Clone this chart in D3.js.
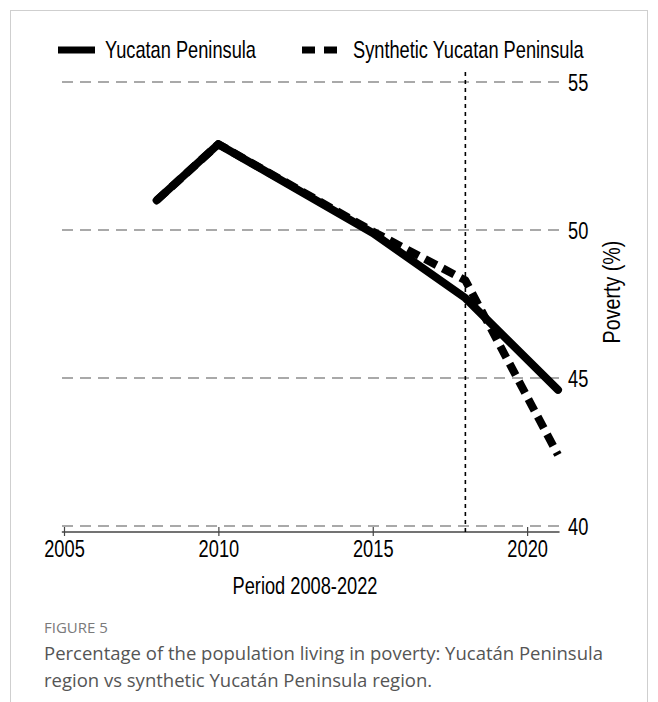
<!DOCTYPE html>
<html>
<head>
<meta charset="utf-8">
<script src="https://cdn.jsdelivr.net/npm/d3@7"></script>
<style>
  html, body { margin: 0; padding: 0; background: #fff; }
  svg { display: block; }
  .chart-text { font-family: "Liberation Sans", Arial, sans-serif; fill: #000; }
  .caption { font-family: "Open Sans", "Noto Sans", sans-serif; }
</style>
</head>
<body>
<svg id="fig" width="658" height="702"></svg>
<script>
// Poverty share (%) by year
const years = [2008, 2010, 2015, 2018, 2021];
const yucatan = [51.0, 52.9, 49.9, 47.7, 44.6];
const synthetic = [51.0, 52.9, 49.95, 48.3, 42.4];

const xTicks = [2005, 2010, 2015, 2020];
const yTicks = [40, 45, 50, 55];
const treatmentYear = 2018;

const seriesNames = ["Yucatan Peninsula", "Synthetic Yucatan Peninsula"];
const xTitle = "Period 2008-2022";
const yTitle = "Poverty (%)";
const figLabel = "FIGURE 5";
const captionLines = [
  "Percentage of the population living in poverty: Yucatán Peninsula",
  "region vs synthetic Yucatán Peninsula region."
];

// condensed lettering: a regular sans squeezed horizontally
const FS = 24, SX = 0.76;
const narrow = (sx = SX) => `scale(${sx},1)`;

const svg = d3.select("#fig");

function label(parent, px, py, str, anchor = "start", rotate = 0, sx = SX) {
  const g = parent.append("g").attr("transform", `translate(${px},${py}) rotate(${rotate})`);
  g.append("text").attr("class", "chart-text").attr("font-size", FS)
    .attr("text-anchor", anchor).attr("transform", narrow(sx)).text(str);
  return g;
}

// outer frame of the figure panel
svg.append("rect")
  .attr("x", 10.5).attr("y", 10.5)
  .attr("width", 637).attr("height", 740)
  .attr("fill", "none").attr("stroke", "#cfcfcf").attr("stroke-width", 1);

const x = d3.scaleLinear().domain([2005, 2021]).range([64, 558]);
const y = d3.scaleLinear().domain([40, 55]).range([526, 82]);

// horizontal dashed gridlines
svg.append("g").selectAll("line").data(yTicks).join("line")
  .attr("x1", 62).attr("x2", 560)
  .attr("y1", d => y(d)).attr("y2", d => y(d))
  .attr("stroke", "#a9a9a9").attr("stroke-width", 2)
  .attr("stroke-dasharray", "11,7");

// x axis (line slightly below the plot region, ticks crossing it)
const xAxis = svg.append("g")
  .attr("transform", "translate(0,532)")
  .call(d3.axisBottom(x).tickValues(xTicks).tickFormat(d3.format("d")).tickSizeOuter(0).tickSize(5).tickPadding(0));
xAxis.select(".domain").attr("stroke", "#444").attr("stroke-width", 1.5)
  .attr("d", `M${x(2004.93)},0H${x(2021.05)}`);
xAxis.selectAll(".tick line").attr("y1", -5).attr("y2", 4).attr("stroke", "#444").attr("stroke-width", 1.2);
xAxis.selectAll(".tick text")
  .attr("class", "chart-text")
  .attr("font-size", FS).attr("y", 25).attr("dy", 0)
  .attr("transform", narrow());

// right y axis labels
const yAxis = svg.append("g")
  .attr("transform", "translate(568,0)")
  .call(d3.axisRight(y).tickValues(yTicks).tickSize(0).tickPadding(0));
yAxis.select(".domain").remove();
yAxis.selectAll(".tick text").attr("class", "chart-text").attr("font-size", FS)
  .attr("x", 0).attr("dy", "0.36em").attr("transform", narrow());

// treatment year reference line
svg.append("line")
  .attr("x1", x(treatmentYear)).attr("x2", x(treatmentYear))
  .attr("y1", 72).attr("y2", 533)
  .attr("stroke", "#000").attr("stroke-width", 1.6)
  .attr("stroke-dasharray", "4,4");

const line = d3.line().x(d => x(d[0])).y(d => y(d[1]));

// actual series (solid)
svg.append("path")
  .datum(years.map((yr, i) => [yr, yucatan[i]]))
  .attr("d", line)
  .attr("fill", "none").attr("stroke", "#000").attr("stroke-width", 8)
  .attr("stroke-linecap", "round").attr("stroke-linejoin", "round");

// synthetic control series (dashed)
svg.append("path")
  .datum(years.map((yr, i) => [yr, synthetic[i]]))
  .attr("d", line)
  .attr("fill", "none").attr("stroke", "#000").attr("stroke-width", 8)
  .attr("stroke-dasharray", "13,7")
  .attr("stroke-linejoin", "round");

// legend
const legend = svg.append("g");
legend.append("line").attr("x1", 58).attr("x2", 95).attr("y1", 50).attr("y2", 50)
  .attr("stroke", "#000").attr("stroke-width", 7);
label(legend, 105, 58, seriesNames[0]);
legend.append("line").attr("x1", 302).attr("x2", 337).attr("y1", 50).attr("y2", 50)
  .attr("stroke", "#000").attr("stroke-width", 7).attr("stroke-dasharray", "13,9");
label(legend, 353, 58, seriesNames[1]);

// axis titles
label(svg, 305, 594, xTitle, "middle");
label(svg, 620, 292, yTitle, "middle", -90, 0.82);

// figure caption
svg.append("text").attr("class", "caption")
  .attr("x", 44).attr("y", 633).attr("font-size", 15)
  .attr("fill", "#7a7a7a").text(figLabel);
svg.selectAll(".capline").data(captionLines).join("text")
  .attr("class", "caption capline")
  .attr("x", 44).attr("y", (d, i) => 660 + i * 27)
  .attr("font-size", 18.5).attr("fill", "#555")
  .text(d => d);
</script>
</body>
</html>
